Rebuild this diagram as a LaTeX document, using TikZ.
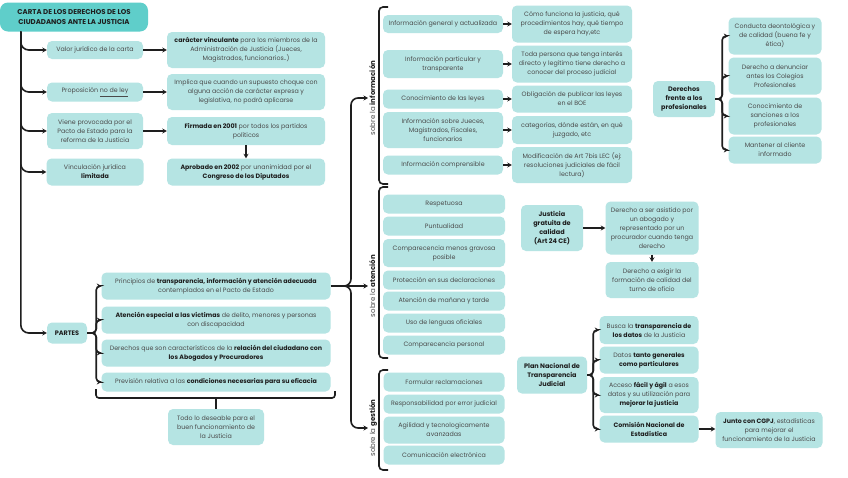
\documentclass[tikz,border=0pt]{standalone}
\usepackage{fontspec}
\setmainfont{Poppins}
\usetikzlibrary{arrows.meta,positioning,calc}
\definecolor{ink}{HTML}{4A4A4A}
\definecolor{dark}{HTML}{1E1E1E}
\definecolor{cell}{HTML}{B5E4E3}
\definecolor{head}{HTML}{5FCECA}
\newcommand{\keyw}[1]{{\color{dark}\bfseries #1}}

\begin{document}
\begin{tikzpicture}[x=1pt,y=-1pt,font=\fontsize{6.3}{9}\selectfont,
  bx/.style 2 args={fill=cell,text=ink,rounded corners=5pt,align=center,inner sep=1pt,
    minimum width=#1,minimum height=#2},
  hd/.style={text=dark,font=\fontsize{6.5}{9}\selectfont\bfseries},
  lab/.style={text=ink,inner sep=1pt,rotate=90,anchor=north,font=\fontsize{7}{9}\selectfont},
  line/.style={draw=dark,line width=1.6pt},
  conn/.style={line,-{Stealth[length=4.5pt,width=5pt]},rounded corners=5pt}]
\fill[white] (0,0) rectangle (848,477);
\useasboundingbox (0,0) rectangle (848,477);
% title and first column
\node[bx={148pt}{29pt},hd,rounded corners=8pt,fill=head,font=\fontsize{7}{9.5}\selectfont\bfseries] (title) at (74,17)
  {CARTA DE LOS DERECHOS DE LOS\\CIUDADANOS ANTE LA JUSTICIA};
\node[bx={96pt}{18pt}] (valor) at (95,50) {Valor jurídico de la carta};
\node[bx={96pt}{19pt}] (prop) at (95,92) {Proposición \underline{no de ley}};
\node[bx={96pt}{36pt}] (pacto) at (95,131) {Viene provocada por el\\Pacto de Estado para la\\reforma de la Justicia};
\node[bx={97pt}{27pt}] (vinc) at (95,172) {Vinculación jurídica\\\keyw{limitada}};
\node[bx={158pt}{36pt}] (carac) at (246,50)
  {\keyw{carácter vinculante} para los miembros de la\\Administración de Justicia (Jueces,\\Magistrados, funcionarios..)};
\node[bx={158pt}{36pt}] (impl) at (246,92)
  {Implica que cuando un supuesto choque con\\alguna acción de carácter expresa y\\legislativa, no podrá aplicarse};
\node[bx={158pt}{28pt}] (firm) at (246,131) {\keyw{Firmada en 2001} por todos los partidos\\políticos};
\node[bx={158pt}{27pt}] (aprob) at (246,172) {\keyw{Aprobado en 2002} por unanimidad por el\\\keyw{Congreso de los Diputados}};
% partes
\node[bx={40pt}{21pt},hd] (partes) at (67,333) {PARTES};
\node[bx={229pt}{27pt}] (princ) at (216,286)
  {Principios de \keyw{transparencia, información y atención adecuada}\\contemplados en el Pacto de Estado};
\node[bx={229pt}{27pt}] (vict) at (216,320)
  {\keyw{Atención especial a las víctimas} de delito, menores y personas\\con discapacidad};
\node[bx={229pt}{27pt}] (abog) at (216,353)
  {Derechos que son característicos de la \keyw{relación del ciudadano con}\\\keyw{los Abogados y Procuradores}};
\node[bx={229pt}{19pt}] (efic) at (216,382) {Previsión relativa a las \keyw{condiciones necesarias para su eficacia}};
\node[bx={96pt}{36pt}] (todo) at (216,427) {Todo lo deseable para el\\buen funcionamiento de\\la Justicia};
% sobre la informacion
\node[bx={120pt}{18pt}] (ig) at (443,24) {Información general y actualizada};
\node[bx={120pt}{28pt}] (ip) at (443,64) {Información particular y\\transparente};
\node[bx={120pt}{19pt}] (cl) at (443,99) {Conocimiento de las leyes};
\node[bx={120pt}{36pt}] (ij) at (443,130) {Información sobre Jueces,\\Magistrados, Fiscales,\\funcionarios};
\node[bx={120pt}{19pt}] (ic) at (443,165) {Información comprensible};
\node[bx={120pt}{37pt}] (cf) at (572,24) {Cómo funciona la justicia, qué\\procedimientos hay, qué tiempo\\de espera hay,etc};
\node[bx={120pt}{37pt}] (tp) at (572,64) {Toda persona que tenga interés\\directo y legítimo tiene derecho a\\conocer del proceso judicial};
\node[bx={120pt}{27pt}] (boe) at (572,99) {Obligación de publicar las leyes\\en el BOE};
\node[bx={120pt}{28pt}] (cat) at (572,130) {categorías, dónde están, en qué\\juzgado, etc};
\node[bx={120pt}{36pt}] (mod) at (572,165) {Modificación de Art 7bis LEC (ej:\\resoluciones judiciales de fácil\\lectura)};
% sobre la atencion
\node[bx={122pt}{19pt}] (r1) at (444,204) {Respetuosa};
\node[bx={122pt}{19pt}] (r2) at (444,226) {Puntualidad};
\node[bx={122pt}{28pt}] (r3) at (444,253) {Comparecencia menos gravosa\\posible};
\node[bx={122pt}{19pt}] (r4) at (444,280) {Protección en sus declaraciones};
\node[bx={122pt}{19pt}] (r5) at (444,301) {Atención de mañana y tarde};
\node[bx={122pt}{19pt}] (r6) at (444,323) {Uso de lenguas oficiales};
\node[bx={122pt}{19pt}] (r7) at (444,345) {Comparecencia personal};
% sobre la gestion
\node[bx={121pt}{19pt}] (g1) at (444,382) {Formular reclamaciones};
\node[bx={121pt}{19pt}] (g2) at (444,404) {Responsabilidad por error judicial};
\node[bx={121pt}{27pt}] (g3) at (444,430) {Agilidad y tecnologicamente\\avanzadas};
\node[bx={121pt}{19pt}] (g4) at (444,455) {Comunicación electrónica};
% justicia gratuita
\node[bx={62pt}{46pt},hd] (jg) at (552,228) {Justicia\\gratuita de\\calidad\\(Art 24 CE)};
\node[bx={93pt}{53pt}] (da) at (652,228) {Derecho a ser asistido por\\un abogado y\\representado por un\\procurador cuando tenga\\derecho};
\node[bx={93pt}{36pt}] (de) at (652,280) {Derecho a exigir la\\formación de calidad del\\turno de oficio};
% plan nacional
\node[bx={70pt}{37pt},hd] (plan) at (552,375) {Plan Nacional de\\Transparencia\\Judicial};
\node[bx={99pt}{28pt}] (pn1) at (649,330) {Busca la \keyw{transparencia de}\\\keyw{los datos} de la Justicia};
\node[bx={99pt}{27pt}] (pn2) at (649,360) {Datos \keyw{tanto generales}\\\keyw{como particulares}};
\node[bx={99pt}{36pt}] (pn3) at (649,395) {Acceso \keyw{fácil y ágil} a esos\\datos y su utilización para\\\keyw{mejorar la justicia}};
\node[bx={99pt}{27pt}] (pn4) at (649,429) {\keyw{Comisión Nacional de}\\\keyw{Estadística}};
\node[bx={107pt}{36pt}] (cgpj) at (769,430) {\keyw{Junto con CGPJ}, estadísticas\\para mejorar el\\funcionamiento de la Justicia};
% profesionales
\node[bx={62pt}{36pt},hd] (dfp) at (684,99) {Derechos\\frente a los\\profesionales};
\node[bx={93pt}{37pt}] (dp1) at (775,36) {Conducta deontológica y\\de calidad (buena fe y\\ética)};
\node[bx={93pt}{37pt}] (dp2) at (775,76) {Derecho a denunciar\\antes los Colegios\\Profesionales};
\node[bx={93pt}{37pt}] (dp3) at (775,116) {Conocimiento de\\sanciones a los\\profesionales};
\node[bx={93pt}{27pt}] (dp4) at (775,150) {Mantener al cliente\\informado};
% side labels
\node[lab] (sinfo) at (368,98) {sobre la \keyw{información}};
\node[lab] (saten) at (368,286) {sobre la \keyw{atención}};
\node[lab] (sgest) at (368,428) {sobre la \keyw{gestión}};

% trunk
\coordinate (trunk) at ($(title.south west)+(21,0)$);
\foreach \n in {valor,prop,pacto,vinc,partes}
  \draw[conn,rounded corners=8pt] (trunk) |- (\n.west);
\draw[conn] (valor) -- (carac);
\draw[conn] (prop) -- (impl);
\draw[conn] (pacto) -- (firm);
\draw[conn] (firm) -- (aprob);
% partes brace
\coordinate (pj) at ($(partes.east)+(9,0)$);
\foreach \n in {princ,vict,abog,efic}
  \draw[conn,rounded corners=4pt] (partes.east) -- (pj) |- (\n.west);
\draw[line,rounded corners=3pt] (96,389) -- (96,398) -- (335,398) -- (335,391);
\coordinate (bb) at (216,398);
\draw[line] (bb) -- (todo);
% big brace
\coordinate (bj) at (343,286);
\coordinate (bv) at (351,286);
\draw[conn] (princ.east) -- (saten.north);
\draw[conn,rounded corners=7pt] (bj) -- (bv) |- (sinfo.north);
\draw[conn,rounded corners=7pt] (bj) -- (bv) |- (sgest.north);
\draw[line,rounded corners=4pt] (388,7) -| (379,184) -- (388,184);
\draw[line,rounded corners=4pt] (388,187) -| (379,358) -- (388,358);
\draw[line,rounded corners=4pt] (388,370) -| (379,470) -- (388,470);
\foreach \a/\b in {ig/cf,ip/tp,cl/boe,ij/cat,ic/mod}
  \draw[conn] (\a) -- (\b);
% right side
\draw[conn] (jg) -- (da);
\draw[conn] (da) -- (de);
\coordinate (pnj) at ($(plan.east)+(6,0)$);
\foreach \n in {pn1,pn2,pn3,pn4}
  \draw[conn,rounded corners=4pt] (plan.east) -- (pnj) |- (\n.west);
\draw[conn] (pn4.east) -- (pn4.east -| cgpj.west);
\coordinate (dfj) at ($(dfp.east)+(7,0)$);
\foreach \n in {dp1,dp2,dp3,dp4}
  \draw[conn,rounded corners=4pt] (dfp.east) -- (dfj) |- (\n.west);
\end{tikzpicture}
\end{document}
